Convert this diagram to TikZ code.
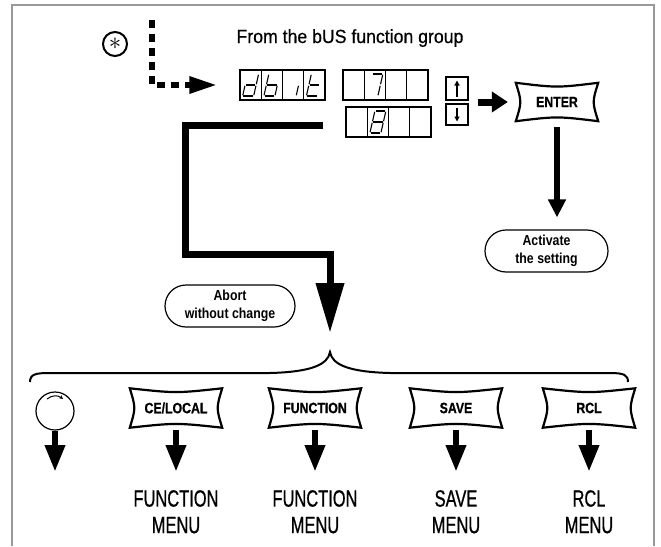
\documentclass[tikz,border=0pt]{standalone}
\usepackage{fontspec}
\setmainfont{Liberation Sans}
\newfontfamily\condfont{Liberation Sans}[FakeStretch=0.7, FakeBold=0.7]
\newfontfamily\keyfont{Liberation Sans}[FakeStretch=0.85]
\newfontfamily\capfont{Liberation Sans}[FakeStretch=0.82, FakeBold=0.6]
\newfontfamily\titlefont{Liberation Sans}[FakeStretch=0.93, FakeBold=0.5]
\usetikzlibrary{arrows.meta,calc}

% seven-segment strokes, centred on a display cell
\def\sega{(-3,-11) -- (8,-11)}
\def\segb{(8,-11) -- (5.5,0)}
\def\segc{(5.5,0) -- (3,11)}
\def\segd{(-8,11) -- (3,11)}
\def\sege{(-5.5,0) -- (-8,11)}
\def\segf{(-3,-11) -- (-5.5,0)}
\def\segg{(-5.5,0) -- (5.5,0)}
\newcommand{\digit}[2]{%
  \begin{scope}[shift={(#1.center)}, segline]
    \foreach \s in {#2} {\expandafter\draw\csname seg\s\endcsname;}
  \end{scope}}
% pillow outline of a key
\newcommand{\keyshape}[1]{%
  \draw[keyline] (#1.north west) .. controls ($(#1.north)+(0,5)$) .. (#1.north east)
    .. controls ($(#1.east)+(-6,0)$) .. (#1.south east)
    .. controls ($(#1.south)+(0,-5)$) .. (#1.south west)
    .. controls ($(#1.west)+(6,0)$) .. (#1.north west) -- cycle;}

\begin{document}
\begin{tikzpicture}[x=1pt, y=-1pt,
  frame/.style={draw=black!40, line width=2pt},
  cell/.style={draw, line width=1.4pt, minimum width=21.25pt, minimum height=30pt, inner sep=0pt},
  segline/.style={line width=1.1pt, shorten <=0.8pt, shorten >=0.8pt},
  keycap/.style={font=\capfont\bfseries\fontsize{15}{17}\selectfont, minimum width=92pt,
                 minimum height=39pt, inner sep=0pt},
  keyline/.style={line width=2.2pt},
  pill/.style={draw, line width=1.2pt, rounded corners=21pt, minimum width=123pt,
               minimum height=42pt, inner sep=0pt, align=center,
               font=\keyfont\bfseries\fontsize{14.5}{18}\selectfont},
  menu/.style={anchor=north, inner sep=0pt, align=center, font=\condfont\fontsize{23.5}{26.5}\selectfont},
  smallarrow/.style={line width=1.3pt, -{Triangle[length=5pt,width=5pt]}},
  bigarrow/.style={line width=7pt, -{Triangle[length=16pt,width=20pt]}},
  keyarrow/.style={line width=6.5pt, -{Triangle[length=27pt,width=19pt]}, shorten <=2.5pt, shorten >=18pt},
  thickarrow/.style={line width=7pt, -{Triangle[length=50pt,width=27pt]}, shorten >=19pt},
  dotarrow/.style={line width=6pt, dash pattern=on 8pt off 6pt, -{Triangle[length=28pt,width=16pt]}, shorten >=22pt}
]
  \useasboundingbox (0,0) rectangle (661,546);
  \draw[frame] (12,546) -- (12,5) -- (654,5) -- (654,546);

  % entry from the bus group
  \node[circle, draw, line width=2pt, minimum size=24pt, inner sep=0pt] (star) at (115,44) {\fontsize{30}{30}\selectfont$\ast$};
  \node[anchor=base, font=\titlefont\fontsize{19}{22}\selectfont] (title) at (350,43) {From the bUS function group};

  % displays
  \foreach \i in {1,...,4} {
    \node[cell] (dbit\i) at ({229.375+21.25*\i},85) {};
    \node[cell] (seven\i) at ({332.375+21.25*\i},85) {};
    \node[cell] (eight\i) at ({335.375+21.25*\i},122) {};
  }
  \digit{dbit1}{b,c,d,e,g}
  \digit{dbit2}{c,d,e,f,g}
  \digit{dbit3}{c}
  \digit{dbit4}{d,e,f,g}
  \digit{seven2}{a,b,c}
  \digit{eight2}{a,b,c,d,e,f,g}

  \coordinate (dottop) at (152,20);
  \draw[dotarrow] (dottop) |- (dbit1);

  % up/down and ENTER
  \node[cell, minimum width=22pt, minimum height=23pt] (up) at (457,88.5) {};
  \node[cell, minimum width=22pt, minimum height=21pt] (down) at (457,114.5) {};
  \draw[smallarrow] ($(up.center)+(0,8)$) -- ($(up.center)+(0,-8)$);
  \draw[smallarrow] ($(down.center)+(0,-7)$) -- ($(down.center)+(0,7)$);

  \node[keycap, minimum width=82pt, minimum height=38pt] (enter) at (557,102) {ENTER};
  \keyshape{enter}
  \coordinate (ud) at ($(up.south east)!0.5!(down.north east)$);
  \draw[bigarrow, shorten <=9pt, shorten >=8pt] (ud) -- (ud -| enter.west);

  \node[pill] (activate) at (546.5,251) {Activate\\the setting};
  \draw[bigarrow, line width=6.5pt, -{Triangle[length=18pt,width=17pt]}, shorten <=6pt, shorten >=12pt]
    (enter.south) -- (enter.south |- activate.north);

  % abort path
  \node[pill, minimum width=130pt] (abort) at (230,306) {Abort\\without change};
  \coordinate (abortstart) at (323,125);
  \coordinate (abortbend) at (185,254);
  \coordinate (bracetip) at (330,352);
  \draw[thickarrow] (abortstart) -| (abortbend) -| (bracetip);

  \draw[line width=2pt] (30,382) .. controls (30,374) and (36,373) .. (50,373) -- (270,373)
    .. controls (310,372) and (328,365) .. (bracetip)
    .. controls (332,365) and (350,372) .. (390,373) -- (610,373)
    .. controls (624,373) and (628,375) .. (628,382);

  % keys
  \node[circle, draw, line width=1.2pt, minimum size=38pt, inner sep=0pt] (knob) at (55,411) {};
  \draw[line width=1pt, -{Stealth[length=4pt,width=4pt]}] ($(knob.center)+(-8,-12)$)
    .. controls ($(knob.center)+(-3,-16)$) and ($(knob.center)+(3,-16)$) .. ($(knob.center)+(8,-12)$);
  \coordinate (knobend) at (55,472);
  \draw[keyarrow, shorten <=0.5pt, shorten >=0pt] (knob) -- (knobend);

  \node[keycap] (celocal) at (176,408) {CE/LOCAL};
  \node[keycap] (function) at (315,408) {FUNCTION};
  \node[keycap] (save) at (456,408) {SAVE};
  \node[keycap] (rcl) at (589,408) {RCL};
  \foreach \k in {celocal,function,save,rcl} {\keyshape{\k}}

  \node[menu] (celocalmenu) at (176,490) {FUNCTION\\MENU};
  \node[menu] (functionmenu) at (315,490) {FUNCTION\\MENU};
  \node[menu] (savemenu) at (456,490) {SAVE\\MENU};
  \node[menu] (rclmenu) at (589,490) {RCL\\MENU};
  \foreach \k in {celocal,function,save,rcl} {\draw[keyarrow] (\k) -- (\k menu);}
\end{tikzpicture}
\end{document}
